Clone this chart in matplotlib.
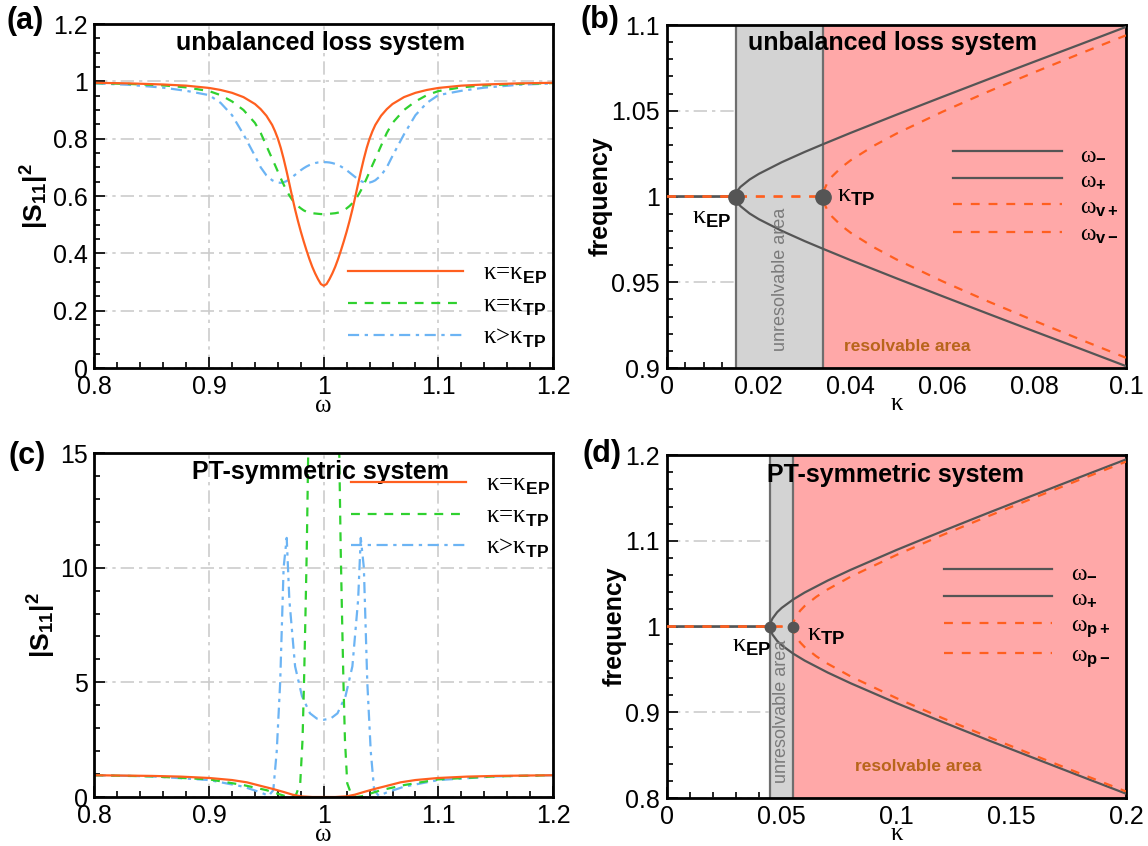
import matplotlib
matplotlib.use("Agg")
import matplotlib.pyplot as plt
from matplotlib.ticker import MultipleLocator, FormatStrFormatter

plt.rcParams['font.family'] = ['Liberation Sans', 'DejaVu Sans']
plt.rcParams['mathtext.fontset'] = 'custom'
plt.rcParams['mathtext.rm'] = 'Liberation Sans'
plt.rcParams['mathtext.bf'] = 'Liberation Sans:bold'
plt.rcParams['mathtext.it'] = 'Liberation Sans:italic'

ORANGE = '#ff5f1f'
GREEN = '#2fd12f'
BLUE = '#6cb4f4'
GRAY = '#555555'
PINK = '#ffa8a8'
BAND = '#d3d3d3'
BROWN = '#b8651b'
GREEK = 'Liberation Serif'

# (a) unbalanced loss system, |S11|^2 vs omega
w_a = [0.80, 0.83, 0.86, 0.88, 0.90, 0.91, 0.92, 0.93, 0.94, 0.945, 0.95, 0.955, 0.9575,
       0.96, 0.9625, 0.965, 0.9675, 0.97, 0.9725, 0.975, 0.9775, 0.98, 0.9825, 0.985, 0.9875,
       0.99, 0.9925, 0.995, 0.9975, 1.0, 1.0025, 1.005, 1.0075, 1.01, 1.0125, 1.015, 1.0175,
       1.02, 1.0225, 1.025, 1.0275, 1.03, 1.0325, 1.035, 1.0375, 1.04, 1.0425, 1.045, 1.05,
       1.055, 1.06, 1.07, 1.08, 1.09, 1.10, 1.12, 1.14, 1.17, 1.20]
s_a_ep = [0.995, 0.993, 0.989, 0.985, 0.977, 0.970, 0.960, 0.945, 0.921, 0.903, 0.880, 0.848,
          0.826, 0.800, 0.768, 0.730, 0.688, 0.643, 0.597, 0.553, 0.513, 0.476, 0.442, 0.410,
          0.380, 0.353, 0.330, 0.310, 0.293, 0.287, 0.293, 0.310, 0.330, 0.353, 0.380, 0.410,
          0.442, 0.476, 0.513, 0.553, 0.597, 0.643, 0.688, 0.730, 0.768, 0.800, 0.826, 0.848,
          0.880, 0.903, 0.921, 0.945, 0.960, 0.970, 0.977, 0.985, 0.989, 0.993, 0.995]
s_a_tp = [0.994, 0.991, 0.986, 0.979, 0.966, 0.952, 0.930, 0.900, 0.855, 0.820, 0.775, 0.730,
          0.708, 0.685, 0.662, 0.640, 0.620, 0.602, 0.587, 0.575, 0.565, 0.557, 0.550, 0.545,
          0.542, 0.540, 0.539, 0.538, 0.537, 0.537, 0.537, 0.538, 0.539, 0.540, 0.542, 0.545,
          0.550, 0.557, 0.565, 0.575, 0.587, 0.602, 0.620, 0.640, 0.662, 0.685, 0.708, 0.730,
          0.775, 0.820, 0.855, 0.900, 0.930, 0.952, 0.966, 0.979, 0.986, 0.991, 0.994]
s_a_gt = [0.993, 0.988, 0.978, 0.967, 0.952, 0.925, 0.882, 0.815, 0.740, 0.700, 0.672, 0.655,
          0.650, 0.647, 0.646, 0.648, 0.652, 0.658, 0.666, 0.674, 0.682, 0.690, 0.697, 0.703,
          0.708, 0.712, 0.715, 0.717, 0.718, 0.718, 0.718, 0.717, 0.715, 0.712, 0.708, 0.703,
          0.697, 0.690, 0.682, 0.674, 0.666, 0.658, 0.652, 0.648, 0.646, 0.647, 0.650, 0.655,
          0.672, 0.700, 0.740, 0.815, 0.882, 0.925, 0.952, 0.967, 0.978, 0.988, 0.993]

# (c) PT-symmetric system, |S11|^2 vs omega
w_c_ep = [0.80, 0.85, 0.875, 0.90, 0.92, 0.933, 0.947, 0.955, 0.965, 0.973, 0.98, 0.99, 1.0,
          1.01, 1.02, 1.027, 1.035, 1.045, 1.053, 1.067, 1.08, 1.10, 1.125, 1.15, 1.20]
s_c_ep = [0.95, 0.92, 0.89, 0.83, 0.74, 0.64, 0.46, 0.36, 0.22, 0.10, 0.03, 0.0, 0.0,
          0.0, 0.03, 0.10, 0.22, 0.36, 0.46, 0.64, 0.74, 0.83, 0.89, 0.92, 0.95]
w_c_tp = [0.80, 0.85, 0.90, 0.93, 0.95, 0.96, 0.967, 0.972, 0.976, 0.9795, 0.9815, 0.9828,
          0.984, 0.9852, 0.9866, 0.99, 1.0, 1.01, 1.0134, 1.0148, 1.016, 1.0172, 1.0185,
          1.0205, 1.024, 1.028, 1.033, 1.04, 1.05, 1.07, 1.10, 1.15, 1.20]
s_c_tp = [0.95, 0.90, 0.77, 0.52, 0.30, 0.14, 0.03, 0.0, 0.12, 0.6, 2.5, 5.0, 7.8, 10.8,
          15.5, 30, 60, 30, 15.5, 10.8, 7.8, 5.0, 2.5, 0.6, 0.12, 0.0, 0.03, 0.14, 0.30,
          0.52, 0.77, 0.90, 0.95]
w_c_gt = [0.80, 0.85, 0.90, 0.93, 0.945, 0.952, 0.956, 0.959, 0.962, 0.965, 0.9677, 0.970,
          0.975, 0.981, 0.988, 0.994, 1.0, 1.006, 1.012, 1.019, 1.025, 1.030, 1.0323, 1.035,
          1.038, 1.041, 1.044, 1.048, 1.055, 1.07, 1.10, 1.15, 1.20]
s_c_gt = [0.95, 0.90, 0.74, 0.45, 0.20, 0.05, 0.30, 2.0, 5.0, 10.0, 11.3, 8.6, 5.7, 4.4,
          3.65, 3.42, 3.37, 3.42, 3.65, 4.4, 5.7, 8.6, 11.3, 10.0, 5.0, 2.0, 0.30, 0.05,
          0.20, 0.45, 0.74, 0.90, 0.95]

# (b) unbalanced loss system, eigenfrequencies vs kappa
k_b = [0, 0.015, 0.0152, 0.0155, 0.016, 0.018, 0.02, 0.025, 0.03, 0.034, 0.04, 0.05, 0.06,
       0.07, 0.08, 0.09, 0.1]
f_b_minus = [1.0, 1.0, 1.0025, 1.0039, 1.0056, 1.0099, 1.0132, 1.02, 1.026, 1.0305, 1.0371,
             1.0477, 1.0581, 1.0684, 1.0786, 1.0887, 1.0989]
f_b_plus = [1.0, 1.0, 0.9975, 0.9961, 0.9944, 0.9901, 0.9868, 0.98, 0.974, 0.9695, 0.9629,
            0.9523, 0.9419, 0.9316, 0.9214, 0.9113, 0.9011]
k_bv = [0, 0.034, 0.0342, 0.035, 0.036, 0.038, 0.04, 0.045, 0.05, 0.06, 0.07, 0.08, 0.09, 0.1]
f_b_vp = [1.0, 1.0, 1.0037, 1.0083, 1.0118, 1.017, 1.0211, 1.0295, 1.0367, 1.0494, 1.0612,
          1.0724, 1.0833, 1.094]
f_b_vm = [1.0, 1.0, 0.9963, 0.9917, 0.9882, 0.983, 0.9789, 0.9705, 0.9633, 0.9506, 0.9388,
          0.9276, 0.9167, 0.906]
band_b = [0.015, 0.034]

# (d) PT-symmetric system, eigenfrequencies vs kappa
k_d = [0, 0.045, 0.0452, 0.0455, 0.046, 0.048, 0.05, 0.055, 0.06, 0.07, 0.08, 0.1, 0.12,
       0.14, 0.16, 0.18, 0.2]
f_d_minus = [1.0, 1.0, 1.0042, 1.0067, 1.0095, 1.0167, 1.0218, 1.0316, 1.0397, 1.0536,
             1.0661, 1.0893, 1.1112, 1.1326, 1.1535, 1.1743, 1.1949]
f_d_plus = [1.0, 1.0, 0.9958, 0.9933, 0.9905, 0.9833, 0.9782, 0.9684, 0.9603, 0.9464,
            0.9339, 0.9107, 0.8888, 0.8674, 0.8465, 0.8257, 0.8051]
k_dp = [0, 0.055, 0.0552, 0.0555, 0.056, 0.058, 0.06, 0.065, 0.07, 0.08, 0.1, 0.12, 0.14,
        0.16, 0.18, 0.2]
f_d_pp = [1.0, 1.0, 1.0047, 1.0074, 1.0105, 1.0184, 1.024, 1.0346, 1.0433, 1.0581, 1.0835,
          1.1067, 1.1287, 1.1502, 1.1714, 1.1923]
f_d_pm = [1.0, 1.0, 0.9953, 0.9926, 0.9895, 0.9816, 0.976, 0.9654, 0.9567, 0.9419, 0.9165,
          0.8933, 0.8713, 0.8498, 0.8286, 0.8077]
band_d = [0.045, 0.055]

DASH = (4, 3.5)
DASHDOT = (5, 2.5, 1.5, 2.5)


def style_axes(ax, xlim, ylim, xmaj, xmin, ymaj, ymin):
    ax.set_xlim(xlim)
    ax.set_ylim(ylim)
    ax.xaxis.set_major_locator(MultipleLocator(xmaj))
    ax.xaxis.set_minor_locator(MultipleLocator(xmin))
    ax.yaxis.set_major_locator(MultipleLocator(ymaj))
    ax.yaxis.set_minor_locator(MultipleLocator(ymin))
    ax.xaxis.set_major_formatter(FormatStrFormatter('%g'))
    ax.yaxis.set_major_formatter(FormatStrFormatter('%g'))
    ax.tick_params(which='both', direction='in', top=False, right=False, labelsize=18, width=1.2)
    ax.tick_params(which='major', length=8, pad=5)
    ax.tick_params(which='minor', length=4)
    for s in ax.spines.values():
        s.set_linewidth(2)
    ax.grid(True, which='major', ls=(0, (8, 3, 2, 3)), color='#cccccc', lw=1.2)
    ax.set_axisbelow(True)


def add_legend(ax, x, y, fs, spacing, reverse=False):
    h, l = ax.get_legend_handles_labels()
    if reverse:
        h, l = h[::-1], l[::-1]
    ax.legend(h, l, loc='center left', bbox_to_anchor=(x, y), frameon=False,
              prop={'family': GREEK, 'size': fs},
              handlelength=4.6, handletextpad=0.8, labelspacing=spacing,
              borderpad=0, borderaxespad=0)


def draw_spectrum(ax, title, tx, ty, yl):
    style_axes(ax, (0.8, 1.2), yl[0], 0.1, 0.02, yl[1], yl[2])
    ax.set_xlabel('ω', fontsize=18, family=GREEK, labelpad=-3)
    ax.set_ylabel(r'$\mathbf{|S_{11}|^2}$', fontsize=19, labelpad=1)
    ax.text(tx, ty, title, transform=ax.transAxes, ha='center', va='center',
            fontsize=18, fontweight='bold')


def draw_eigen(ax, band, xlim, ylim, xmaj, xmin, ymaj, ymin):
    style_axes(ax, xlim, ylim, xmaj, xmin, ymaj, ymin)
    ax.axvspan(band[0], band[1], color=BAND, lw=0, zorder=1)
    ax.axvspan(band[1], xlim[1], color=PINK, lw=0, zorder=1)
    for k in band:
        ax.axvline(k, color='#6e6e6e', lw=1.6, zorder=1.5)
    ax.set_xlabel('κ', fontsize=18, family=GREEK, labelpad=-4)
    ax.set_ylabel('frequency', fontsize=18, fontweight='bold', labelpad=-1)


fig = plt.figure(figsize=(11.48, 8.46), dpi=100)

# panel (a)
ax = fig.add_axes([0.0823, 0.565, 0.3994, 0.4066])
draw_spectrum(ax, 'unbalanced loss system', 0.492, 0.945, ((0, 1.2), 0.2, 0.05))
ax.plot(w_a, s_a_gt, color=BLUE, lw=1.6, dashes=DASHDOT, label='κ>κ$_{\\mathbf{TP}}$')
ax.plot(w_a, s_a_tp, color=GREEN, lw=1.6, dashes=DASH, label='κ=κ$_{\\mathbf{TP}}$')
ax.plot(w_a, s_a_ep, color=ORANGE, lw=1.6, label='κ=κ$_{\\mathbf{EP}}$')
add_legend(ax, 0.553, 0.180, 18, 0.32, reverse=True)

# panel (c)
ax = fig.add_axes([0.0823, 0.0579, 0.3994, 0.4066])
draw_spectrum(ax, 'PT-symmetric system', 0.494, 0.945, ((0, 15), 5, 1))
ax.plot(w_c_gt, s_c_gt, color=BLUE, lw=1.6, dashes=DASHDOT, label='κ>κ$_{\\mathbf{TP}}$')
ax.plot(w_c_tp, s_c_tp, color=GREEN, lw=1.6, dashes=DASH, label='κ=κ$_{\\mathbf{TP}}$')
ax.plot(w_c_ep, s_c_ep, color=ORANGE, lw=1.6, label='κ=κ$_{\\mathbf{EP}}$')
add_legend(ax, 0.559, 0.815, 18, 0.32, reverse=True)

# panel (b)
ax = fig.add_axes([0.581, 0.565, 0.3998, 0.4054])
draw_eigen(ax, band_b, (0, 0.1), (0.9, 1.1), 0.02, 0.004, 0.05, 0.01)
ax.plot(k_b, f_b_minus, color=GRAY, lw=1.6, zorder=3, label='ω$_{\\mathbf{-}}$')
ax.plot(k_b, f_b_plus, color=GRAY, lw=1.6, zorder=3, label='ω$_{\\mathbf{+}}$')
ax.plot(k_bv, f_b_vp, color=ORANGE, lw=1.6, dashes=(4, 4), zorder=4, label='ω$_{\\mathbf{v+}}$')
ax.plot(k_bv, f_b_vm, color=ORANGE, lw=1.6, dashes=(4, 4), zorder=4, label='ω$_{\\mathbf{v-}}$')
ax.plot(band_b, [1.0, 1.0], 'o', color=GRAY, ms=11, zorder=5)
ax.text(0.0055, 0.987, 'κ$_{\\mathbf{EP}}$', fontsize=19, family=GREEK, va='center', ha='left')
ax.text(0.037, 0.9995, 'κ$_{\\mathbf{TP}}$', fontsize=19, family=GREEK, va='center', ha='left')
ax.text(0.0248, 0.9517, 'unresolvable area', rotation=90, color='#7a7a7a', fontsize=13,
        ha='center', va='center')
ax.text(0.0523, 0.9128, 'resolvable area', color=BROWN, fontsize=12.5, fontweight='bold',
        ha='center', va='center')
ax.text(0.492, 0.948, 'unbalanced loss system', transform=ax.transAxes, ha='center',
        va='center', fontsize=18, fontweight='bold')
add_legend(ax, 0.623, 0.506, 17, 0.22)

# panel (d)
ax = fig.add_axes([0.581, 0.0567, 0.3998, 0.4054])
draw_eigen(ax, band_d, (0, 0.2), (0.8, 1.2), 0.05, 0.01, 0.1, 0.02)
ax.plot(k_d, f_d_minus, color=GRAY, lw=1.6, zorder=3, label='ω$_{\\mathbf{-}}$')
ax.plot(k_d, f_d_plus, color=GRAY, lw=1.6, zorder=3, label='ω$_{\\mathbf{+}}$')
ax.plot(k_dp, f_d_pp, color=ORANGE, lw=1.6, dashes=(4, 4), zorder=4, label='ω$_{\\mathbf{p+}}$')
ax.plot(k_dp, f_d_pm, color=ORANGE, lw=1.6, dashes=(4, 4), zorder=4, label='ω$_{\\mathbf{p-}}$')
ax.plot(band_d, [1.0, 1.0], 'o', color=GRAY, ms=7.5, zorder=5)
ax.text(0.0283, 0.9756, 'κ$_{\\mathbf{EP}}$', fontsize=19, family=GREEK, va='center', ha='left')
ax.text(0.061, 0.9895, 'κ$_{\\mathbf{TP}}$', fontsize=19, family=GREEK, va='center', ha='left')
ax.text(0.0501, 0.901, 'unresolvable area', rotation=90, color='#7a7a7a', fontsize=13,
        ha='center', va='center')
ax.text(0.1094, 0.837, 'resolvable area', color=BROWN, fontsize=12.5, fontweight='bold',
        ha='center', va='center')
ax.text(0.497, 0.942, 'PT-symmetric system', transform=ax.transAxes, ha='center',
        va='center', fontsize=18, fontweight='bold')
add_legend(ax, 0.603, 0.532, 17, 0.22)

for lab, x, y in [('(a)', 6, 6), ('(b)', 581, 5), ('(c)', 8, 441), ('(d)', 582, 439)]:
    fig.text(x / 1148, 1 - y / 846, lab, fontsize=22, fontweight='bold', ha='left', va='top')

fig.savefig('out.png', dpi=100)
